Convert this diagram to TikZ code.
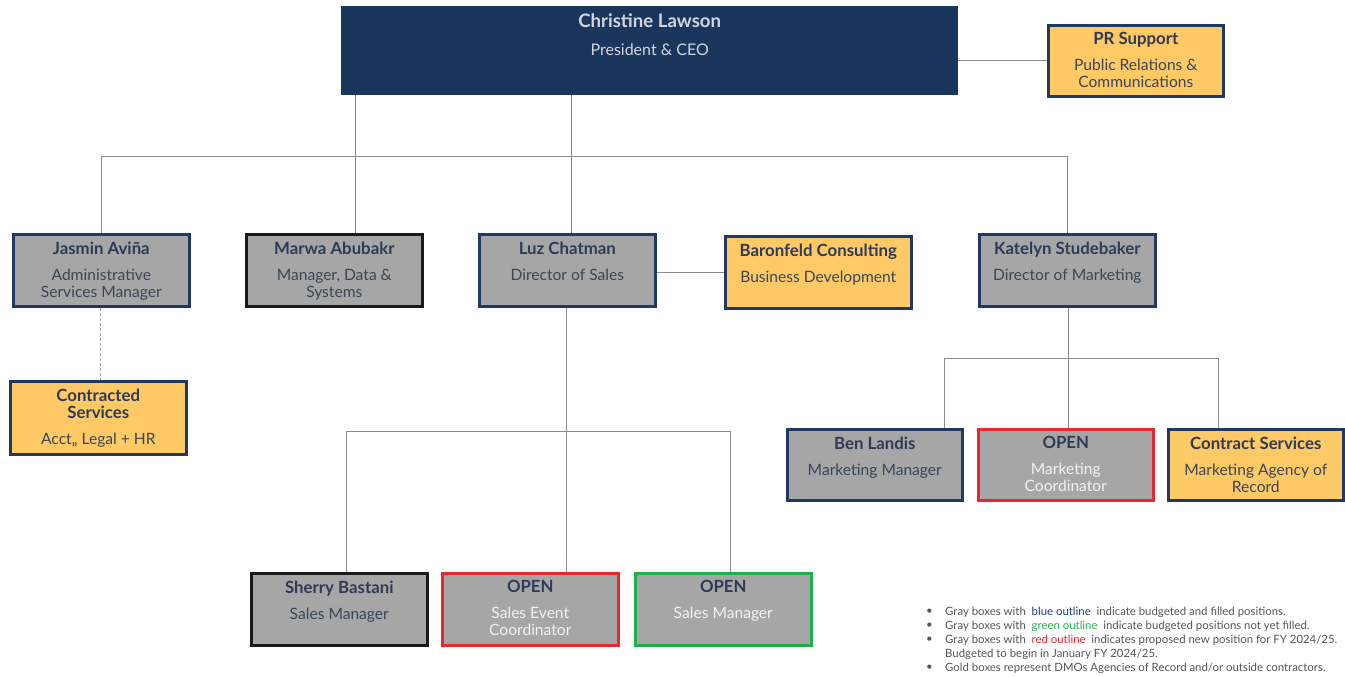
\documentclass[tikz,border=0pt]{standalone}
\usepackage{fontspec}
\setmainfont{Lato}
\definecolor{ceonavy}{HTML}{1B365D}
\definecolor{bnavy}{HTML}{1F3864}
\definecolor{bgray}{HTML}{A6A6A6}
\definecolor{bgold}{HTML}{FFC966}
\definecolor{bred}{HTML}{E8292C}
\definecolor{bgreen}{HTML}{1DB04B}
\definecolor{tnavy}{HTML}{2E3B55}
\definecolor{tsub}{HTML}{3A4656}
\definecolor{twhite}{HTML}{F2F2F2}
\definecolor{connc}{HTML}{8C8C8C}
\definecolor{legc}{HTML}{555555}
\definecolor{legblue}{HTML}{1F3C88}
\definecolor{leggreen}{HTML}{22B04B}
\definecolor{legred}{HTML}{E8232A}
\tikzset{
  orgbox/.style={draw=bnavy, line width=2.6pt, inner sep=0pt, anchor=north west},
  graybox/.style={orgbox, fill=bgray},
  goldbox/.style={orgbox, fill=bgold},
  boxtext/.style={anchor=north, align=center, inner sep=0pt, text=tsub,
    font=\fontsize{15.6}{17}\selectfont},
  conn/.style={draw=connc, line width=0.8pt},
  legtext/.style={anchor=west, inner sep=0pt, text=legc, font=\fontsize{11.4}{12}\selectfont},
}
\newcommand\tfont{\fontsize{16.8}{18}\selectfont\bfseries\color{tnavy}}
\newcommand\orgnode[8]{%
  \node[#6, minimum width=#4, minimum height=#5] (#1) at (#2,#3) {};
  \node[boxtext] (#1t) at ([yshift=-8.5pt]#1.north) {\tfont #7\\[9pt]\fontsize{15.6}{17}\selectfont\mdseries\color{tsub}#8};
}
\begin{document}
\begin{tikzpicture}[x=1pt,y=-1pt]
\useasboundingbox (0,0) rectangle (1345,677);
% CEO
\node[fill=ceonavy, inner sep=0pt, anchor=north west, minimum width=617, minimum height=89] (ceo) at (341,6) {};
\node[anchor=north, align=center, inner sep=0pt, font=\fontsize{16}{17}\selectfont, text=twhite!85!ceonavy] (ceot) at ([yshift=-7pt]ceo.north)
  {\fontsize{18.6}{19}\selectfont\bfseries Christine Lawson\\[11pt]\fontsize{16}{17}\selectfont\mdseries President \& CEO};
% PR support
\orgnode{pr}{1047}{24}{175}{71}{goldbox}{PR Support}{Public Relations \&\\Communications}
% level 2
\orgnode{jas}{12}{233}{176}{72}{graybox}{Jasmin Avi\~na}{Administrative\\Services Manager}
\orgnode{mar}{245}{233}{176}{72}{graybox, draw=black!90}{Marwa Abubakr}{Manager, Data \&\\Systems}
\orgnode{luz}{478}{233}{176}{72}{graybox}{Luz Chatman}{Director of Sales}
\orgnode{bar}{724}{235}{186}{72}{goldbox}{Baronfeld Consulting}{Business Development}
\orgnode{kat}{978}{233}{176}{72}{graybox}{Katelyn Studebaker}{Director of Marketing}
% contracted
\orgnode{con}{9}{380}{176}{73}{goldbox}{Contracted\\\tfont Services}{Acct,, Legal + HR}
% marketing team
\orgnode{ben}{786}{428}{175}{71}{graybox}{Ben Landis}{Marketing Manager}
\orgnode{mco}{977}{428}{175}{71}{graybox, draw=bred}{OPEN}{\color{twhite}Marketing\\\color{twhite}Coordinator}
\orgnode{cs}{1167}{428}{175}{71}{goldbox}{Contract Services}{Marketing Agency of\\Record}
% sales team
\orgnode{she}{250}{572}{176}{72}{graybox, draw=black!90}{Sherry Bastani}{Sales Manager}
\orgnode{sec}{441}{572}{176}{72}{graybox, draw=bred}{OPEN}{\color{twhite}Sales Event\\\color{twhite}Coordinator}
\orgnode{osm}{634}{572}{176}{72}{graybox, draw=bgreen}{OPEN}{\color{twhite}Sales Manager}
% connectors
\coordinate (bus1) at (101,156);
\coordinate (mx) at (355,0);
\coordinate (bus2) at (346,431);
\coordinate (bus3) at (944,358);
\coordinate (lx) at (571,0);
\coordinate (ly) at (0,272);
\coordinate (cx) at (100,0);
\coordinate (sx) at (566,0);
\coordinate (gx) at (730,0);
\coordinate (kx) at (1068,0);
\coordinate (rx) at (1218,0);
\draw[conn] (jas.north -| bus1) -- (bus1) -- (kat.north |- bus1) -- (kat.north);
\draw[conn] (ceo.south -| mx) -- (mar.north -| mx);
\draw[conn] (ceo.south -| lx) -- (luz.north -| lx);
\draw[conn] (ceo.east |- pr.west) -- (pr.west);
\draw[conn] (luz.east |- ly) -- (bar.west |- ly);
\draw[conn, dash pattern=on 3pt off 2pt, draw=connc!80] (jas.south -| cx) -- (con.north -| cx);
% sales bus
\draw[conn] (luz.south -| sx) -- (sec.north -| sx);
\draw[conn] (she.north -| bus2) -- (bus2) -- (bus2 -| gx) -- (osm.north -| gx);
% marketing bus
\draw[conn] (kat.south -| kx) -- (mco.north -| kx);
\draw[conn] (ben.north -| bus3) -- (bus3) -- (bus3 -| rx) -- (cs.north -| rx);
% legend
\foreach \i/\yy in {1/612,2/626,3/640,5/668} \node[legtext] (b\i) at (926,\yy) {•};
\node[legtext] (l1) at (945,612) {Gray boxes with \ {\color{legblue}blue outline} \ indicate budgeted and filled positions.};
\node[legtext] (l2) at (945,626) {Gray boxes with \ {\color{leggreen}green outline} \ indicate budgeted positions not yet filled.};
\node[legtext] (l3) at (945,640) {Gray boxes with \ {\color{legred}red outline} \ indicates proposed new position for FY 2024/25.};
\node[legtext] (l4) at (945,654) {Budgeted to begin in January FY 2024/25.};
\node[legtext] (l5) at (945,668) {Gold boxes represent DMOs Agencies of Record and/or outside contractors.};
\end{tikzpicture}
\end{document}
